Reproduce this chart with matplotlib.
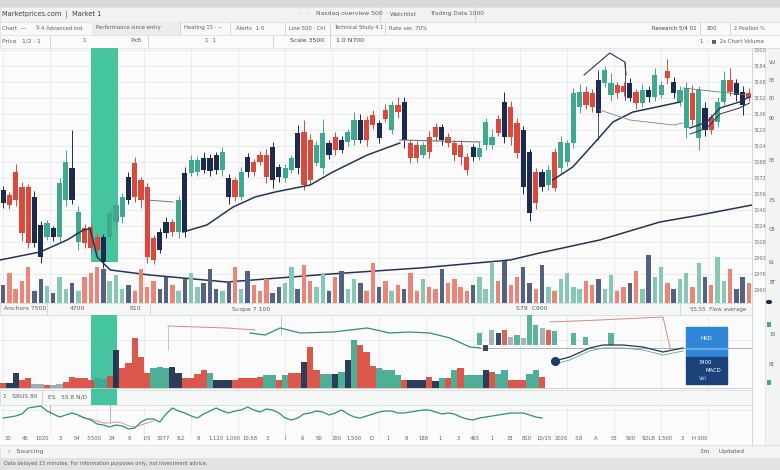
import numpy as np
import matplotlib
matplotlib.use("Agg")
import matplotlib.pyplot as plt
from matplotlib.patches import Rectangle
from matplotlib.ticker import MultipleLocator

W, H = 780, 470

# ---- price candles (one per session) ----
candle_colors = ("NRRRRNNTNT" "TNTRRRNTTT" "NRRRRNNRTN" "TTNNNTNRTN" "RRRNNTTNRR"
                 "TTNRNTTNRR" "NRTRNRRTRR" "NRRRRNTTTR" "NRRNNRNTRT" "TTTRRNTTRR"
                 "NRTNTTRNTT" "RTNRTTRNNR")
opens = [3047, 3055, 3078, 3063, 3063, 3007, 2993, 3013, 3013, 3013,
         3050, 3050, 3008, 3022, 3023, 3013, 2988, 3013, 3028, 3033,
         3050, 3087, 3070, 3063, 3012, 3000, 3017, 3028, 3018, 3018,
         3077, 3078, 3080, 3079, 3080, 3080, 3053, 3070, 3053, 3078,
         3088, 3095, 3095, 3070, 3073, 3072, 3080, 3082, 3118, 3110,
         3087, 3082, 3095, 3113, 3100, 3108, 3110, 3110, 3130, 3135,
         3112, 3140, 3120, 3145, 3110, 3107, 3105, 3095, 3113, 3123,
         3110, 3113, 3107, 3105, 3093, 3093, 3093, 3105, 3105, 3131,
         3113, 3143, 3127, 3063, 3037, 3078, 3063, 3065, 3098, 3082,
         3088, 3107, 3158, 3158, 3143, 3137, 3167, 3167, 3165, 3164,
         3152, 3158, 3147, 3153, 3153, 3155, 3179, 3157, 3148, 3122,
         3157, 3112, 3120, 3133, 3128, 3148, 3170, 3155, 3145, 3157]
closes = [3060, 3045, 3050, 3017, 3007, 3053, 3025, 3027, 3022, 3067,
          3088, 3082, 3038, 3007, 3002, 3000, 3013, 3037, 3045, 3053,
          3073, 3053, 3050, 2993, 2990, 3018, 3028, 3018, 3050, 3077,
          3090, 3090, 3092, 3092, 3095, 3098, 3072, 3053, 3078, 3093,
          3078, 3088, 3073, 3103, 3083, 3082, 3092, 3117, 3065, 3070,
          3105, 3117, 3107, 3100, 3110, 3118, 3130, 3130, 3110, 3125,
          3127, 3131, 3145, 3138, 3148, 3092, 3092, 3105, 3098, 3113,
          3123, 3107, 3095, 3093, 3080, 3103, 3102, 3128, 3113, 3117,
          3148, 3113, 3097, 3120, 3098, 3047, 3078, 3080, 3062, 3108,
          3107, 3157, 3143, 3145, 3157, 3170, 3180, 3155, 3157, 3158,
          3167, 3147, 3160, 3160, 3175, 3165, 3172, 3168, 3160, 3162,
          3130, 3160, 3142, 3120, 3148, 3170, 3158, 3167, 3158, 3152]
wick_up = [4, 3, 8, 5, 3, 6, 4, 3, 2, 5, 12, 38, 6, 4, 3, 4, 3, 5, 4, 4,
           5, 6, 3, 4, 3, 4, 5, 3, 4, 6, 5, 4, 6, 4, 3, 5, 4, 3, 5, 4,
           3, 4, 6, 5, 3, 4, 3, 8, 12, 6, 4, 14, 3, 5, 4, 3, 8, 6, 4, 5,
           3, 6, 4, 8, 5, 3, 4, 3, 6, 4, 3, 4, 3, 5, 4, 3, 6, 4, 8, 4,
           10, 6, 5, 4, 3, 4, 3, 5, 4, 6, 3, 5, 8, 6, 4, 8, 4, 10, 3, 4,
           5, 3, 6, 4, 7, 4, 12, 5, 4, 6, 8, 4, 6, 3, 5, 9, 12, 4, 6, 5]
wick_dn = [5, 4, 6, 8, 5, 4, 6, 3, 4, 5, 6, 4, 8, 5, 4, 3, 6, 4, 5, 6,
           4, 5, 8, 6, 4, 3, 5, 4, 6, 5, 3, 4, 3, 5, 4, 6, 7, 4, 3, 5,
           4, 3, 6, 8, 5, 4, 3, 6, 5, 4, 3, 6, 4, 5, 3, 4, 5, 3, 6, 4,
           5, 3, 4, 6, 8, 5, 4, 3, 6, 4, 5, 4, 6, 8, 5, 4, 3, 5, 4, 3,
           6, 8, 5, 7, 8, 6, 4, 5, 3, 6, 4, 5, 6, 4, 5, 3, 4, 6, 5, 4,
           3, 6, 4, 5, 4, 3, 6, 5, 4, 10, 5, 12, 6, 4, 5, 3, 4, 6, 10, 3]
volumes = [18, 30, 14, 22, 36, 12, 24, 17, 10, 26, 14, 20, 12, 26, 30, 36, 34, 22, 28, 14,
           18, 12, 34, 16, 22, 14, 26, 18, 12, 24, 30, 16, 20, 34, 14, 12, 22, 36, 14, 32,
           18, 12, 24, 10, 16, 20, 36, 14, 38, 22, 16, 30, 12, 26, 32, 14, 24, 20, 12, 40,
           16, 22, 12, 18, 14, 30, 12, 24, 16, 14, 34, 20, 24, 16, 12, 18, 26, 14, 40, 22,
           42, 18, 26, 36, 20, 14, 38, 16, 12, 24, 30, 16, 14, 22, 18, 24, 14, 28, 12, 16,
           20, 32, 14, 52, 26, 36, 20, 14, 24, 30, 16, 40, 26, 18, 46, 22, 34, 14, 26, 20]

# moving averages (session index, price)
ma_long_x = [-0.5, 5.9, 10.2, 12.8, 13.9, 15.0, 17.1, 23.4, 35.7, 52.2, 66.5, 80.9, 85.6, 95.2, 104.8, 111.2, 119.5]
ma_long_y = [2990, 2998, 3010, 3020, 3021, 2993, 2980, 2975, 2968, 2976, 2982, 2990, 2997, 3010, 3028, 3035, 3045]
ma_mid_x = [28.7, 32.5, 36.7, 40.2, 43.4, 49.0, 52.6, 58.1, 63.3]
ma_mid_y = [3018, 3025, 3043, 3053, 3058, 3065, 3078, 3095, 3107]
ma_fast_x = [87.7, 90.9, 95.2, 97.3, 100.5, 104.3, 108.0]
ma_fast_y = [3070, 3083, 3113, 3128, 3138, 3143, 3148]
ma_tail_x = [109.6, 112.3, 114.4, 117.5, 119.1]
ma_tail_y = [3122, 3128, 3142, 3148, 3153]
level_x = [95.2, 100.0, 106.9, 108.5]
level_y = [3140, 3130, 3125, 3127]
peak_x = [92.7, 96.8, 99.2, 99.4]
peak_y = [3175, 3197, 3188, 3175]

# ---- lower panel histogram ----
hist_vals = [5, 5, 15, 8, 10, 4, 4, 3, 3, 4, 6, 11, 10, 10, 8, 10, 9, 12, 38, 20,
             25, 50, 31, 15, 20, 21, 20, 21, 15, 10, 10, 14, 18, 15, 8, 8, 8, 8, 10, 10,
             10, 11, 13, 13, 8, 13, 15, 15, 26, 41, 18, 14, 14, 14, 16, 28, 48, 43, 36, 22,
             20, 18, 18, 13, 8, 8, 8, 8, 11, 7, 10, 10, 18, 20, 13, 13, 13, 18, 16, 14,
             18, 8, 8, 8, 14, 18, 11]
hist_colors = ("RNNRRGGRGG" "RRRRRTTRNR" "RRRRTTTNNR" "RRRTNNNRRR" "RRTTRTRRNR"
               "RTTNTNTRRR" "TTTTRNNNRN" "TRTRTTTNRT" "TRRRTTR")
osc_bar_x = [76, 77, 78, 79, 80, 81, 82, 83, 84, 85, 86, 87, 88, 91, 93, 97]
osc_bar_v = [12, -6, 15, 12, 15, 8, 10, 7, 30, 20, 17, 15, 14, 12, 8, 12]
osc_bar_c = "TNGNRGTGTTGRTTTT"
sig_a_x = [26.3, 35.7, 40.2]
sig_a_y = [64, 62, 60]
sig_b_x = [39.4, 41.8, 44.2, 47.4, 52.6, 58.1, 61.7, 64.9, 68.1, 71.3, 74.5, 76.1]
sig_b_y = [57, 55, 62, 57, 58, 62, 57, 58, 57, 52, 43, 42]
sig_c_x = [88.0, 90.4, 93.6, 95.7, 98.9, 102.1, 105.3, 108.5]
sig_c_y = [29, 33, 42, 45, 45, 43, 38, 42]
sig_d_x = [87.2, 95.2, 105.3, 106.5]
sig_d_y = [68, 70, 73, 40]

# ---- oscillator ----
osc_vals = [17, 18, 19, 21, 27, 28, 29, 24, 21, 18, 20, 22, 20, 17, 15, 11, 10, 8, 10, 9,
            6, 7, 13, 16, 16, 13, 21, 27, 24, 22, 19, 17, 21, 24, 27, 24, 22, 24, 25, 28,
            25, 23, 26, 25, 22, 17, 15, 17, 21, 22, 24, 23, 20, 22, 25, 21, 18, 17, 19, 21,
            23, 24, 24, 22, 22, 23, 24, 25, 25, 23, 21, 22, 21, 18, 16, 15, 17, 18, 19, 20,
            21, 22, 22, 22, 20, 18, 17]
osc_sig_x = list(range(12, 25))
osc_sig_y = [19, 17, 16, 14, 12, 12, 13, 12, 9, 8, 10, 12, 14]

x_labels = ["30", "45", "1020", "3", "54", "3.500", "24", "8", "1/5", "3077", "8.2", "8",
            "1.120", "1.000", "10.58", "3", "J", "6", "50", "200", "1.500", "D", "1", "8",
            "188", "1", "3", "465", "1", "33", "810", "10/15", "2020", "3.8", "A", "53",
            "500", "SOLB", "1.500", "3", "H 300"]

RED, TEAL, NAVY, GRAY = "#d9493c", "#3fa88e", "#1c2b4d", "#9aa7ad"
CMAP = {"R": RED, "T": TEAL, "N": NAVY, "G": GRAY}
VMAP = {"R": "#e98677", "T": "#86c7b6", "N": "#52627f", "G": "#b9c3c7"}
BAND = "#45c4a0"


def rect(x0, y0, x1, y1):
    return [x0 / W, 1 - y1 / H, (x1 - x0) / W, (y1 - y0) / H]


def ftext(x, y, s, size=4.4, color="#5a5f63", **kw):
    fig.text(x / W, 1 - y / H, s, fontsize=size, color=color, va="center", **kw)


def fbox(x0, y0, x1, y1, fc, ec="none", z=-5, lw=0.6):
    fig.patches.append(Rectangle((x0 / W, 1 - y1 / H), (x1 - x0) / W, (y1 - y0) / H,
                                 transform=fig.transFigure, fc=fc, ec=ec, lw=lw, zorder=z))


def style(ax):
    ax.set_facecolor("none")
    for s in ax.spines.values():
        s.set_visible(False)
    ax.xaxis.set_major_locator(MultipleLocator(7.5))
    ax.grid(True, color="#e7e9ea", lw=0.6)
    ax.set_axisbelow(True)
    ax.tick_params(length=0, labelbottom=False, labelleft=False)
    ax.set_xlim(-0.5, 119.5)


fig = plt.figure(figsize=(W / 100, H / 100), dpi=100, facecolor="#fbfbfb")

# chrome
fbox(0, 0, 780, 7, "#d6d8d9")
fbox(0, 7, 780, 22, "#f1f2f2", ec="#dcdede")
fbox(0, 22, 780, 35, "#f8f9f9", ec="#e1e3e3")
fbox(92, 22, 180, 35, "#ebeced")
fbox(0, 35, 780, 48, "#fbfbfb", ec="#e1e3e3")
fbox(765, 48, 780, 445, "#f2f3f3", ec="#dfe1e1")
fbox(0, 303, 752, 315, "#f5f6f6", ec="#d8dbdc")
fbox(0, 390, 752, 405, "#f6f7f7", ec="#d8dbdc")
fbox(0, 445, 780, 458, "#f3f4f4", ec="#dfe1e1")
fbox(0, 458, 780, 470, "#e1e2e3")
fbox(91, 390, 117, 405, BAND, z=-4)
for xs, y0, y1 in [(47, 303, 315), (150, 303, 315), (680, 303, 315), (752, 303, 315),
                   (42, 390, 405), (180, 22, 35), (230, 22, 35), (285, 22, 35),
                   (330, 22, 35), (385, 22, 35), (700, 22, 35), (730, 22, 35),
                   (50, 35, 48), (148, 35, 48), (273, 35, 48), (330, 35, 48),
                   (380, 7, 22), (475, 7, 22), (752, 48, 445)]:
    fbox(xs, y0, xs + 0.6, y1, "#d2d6d8")

ftext(2, 14, "Marketprices.com  |  Market 1", 4.8, "#3d4246")
ftext(300, 14, "·   ·   Nasdaq overview 500  ·", 4.4)
ftext(390, 14, "Watchlist", 4.2)
ftext(430, 14, "Trading Data 1000", 4.2)
ftext(2, 28, "Chart  —", 4.0)
ftext(36, 28, "$", 4.4, RED)
ftext(41, 28, "4 Advanced ind.", 3.8)
ftext(96, 28, "Performance since entry", 3.8)
ftext(184, 28, "Heating 15 · ~", 3.8)
ftext(236, 28, "Alerts  1-5", 4.0)
ftext(289, 28, "Line 500 · Chl", 3.8)
ftext(334, 28, "Technical Study 4.1", 3.7)
ftext(389, 28, "Rate ver. 70%", 4.0)
ftext(652, 28, "Research 5/4 01", 4.0, "#3d4246")
ftext(707, 28, "800", 4.0)
ftext(734, 28, "2 Position %", 3.6)
ftext(2, 41, "Price   1/2 · 1", 4.2)
ftext(82, 41, "1", 4.2)
ftext(130, 41, "PxB", 4.2)
ftext(205, 41, "1  1", 4.2)
ftext(290, 41, "Scale 3500", 4.4, "#3d4246")
ftext(336, 41, "1.0 N700", 4.4, "#3d4246")
ftext(700, 41, "1  ·  ■  2x Chart Volume", 3.8)
ftext(4, 309, "Anchors 7500", 4.4)
ftext(70, 309, "4700", 4.4)
ftext(130, 309, "810", 4.4)
ftext(232, 309, "Scope 7 100", 4.4)
ftext(516, 309, "S79  C900", 4.4)
ftext(690, 309, "55.55  Flow average", 4.0)
ftext(3, 397, "1   SRUS 80", 4.2)
ftext(48, 397, "ES   55.8 N/D", 4.2)
ftext(8, 451, "›   Sourcing", 4.4)
ftext(700, 451, "3m     Updated", 4.2)
ftext(4, 464, "Data delayed 15 minutes. For information purposes only, not investment advice.", 3.6)
for yy, s in [(62, "Vol"), (80, "83"), (98, "80"), (118, "90"), (160, "83"), (200, "ES"),
              (230, "CB"), (262, "61"), (282, "BT"), (335, "18"), (365, "81")]:
    ftext(769, yy, s, 3.4)
fig.patches.append(plt.Circle((769 / W, 1 - 302 / H), 0.003, transform=fig.transFigure,
                              color=NAVY, zorder=5))
fbox(767, 322, 771, 327, TEAL, z=5)
fbox(767, 380, 771, 385, TEAL, z=5)

# main price panel
ax = fig.add_axes(rect(0, 48, 752, 303))
style(ax)
ax.set_ylim(2947, 3202)
ax.yaxis.set_major_locator(MultipleLocator(16))
ax.tick_params(labelright=True, labelsize=3.6, labelcolor="#6b7175", pad=1.0)
ax.axvspan(14.0, 18.3, ymin=0.16, ymax=1, color=BAND, lw=0, zorder=1)

idx = np.arange(len(opens))
o = np.array(opens, float)
c = np.array(closes, float)
hi = np.maximum(o, c) + np.array(wick_up)
lo = np.minimum(o, c) - np.array(wick_dn)
cols = [CMAP[k] for k in candle_colors]
ax.vlines(idx, lo, hi, colors=cols, lw=0.7, zorder=3)
ax.bar(idx, np.abs(c - o), bottom=np.minimum(o, c), width=0.82, color=cols, zorder=4)

ax.plot(ma_long_x, ma_long_y, color="#243656", lw=1.1, zorder=5)
ax.plot(ma_mid_x, ma_mid_y, color="#243656", lw=1.1, zorder=5)
ax.plot(ma_fast_x, ma_fast_y, color="#243656", lw=1.1, zorder=5)
ax.plot(ma_tail_x, ma_tail_y, color="#243656", lw=1.0, zorder=5)
ax.plot(ma_tail_x, np.array(ma_tail_y) - 6, color="#243656", lw=0.7, zorder=5)
ax.plot(level_x, level_y, color="#7d878d", lw=0.6, zorder=5)
ax.plot([63.3, 76.1], [3110, 3108], color="#6d777d", lw=0.8, zorder=5)
ax.plot([23.0, 27.1], [3050, 3048], color="#6d777d", lw=0.7, zorder=5)
ax.plot([108.5, 118.7], [3162, 3155], color="#6d777d", lw=0.6, zorder=5)
ax.plot(peak_x, peak_y, color="#2b3a55", lw=0.8, zorder=5)
ax.vlines([94.9, 99.3], [3110, 3150], [3180, 3188], colors="#2b3a55", lw=0.6, zorder=5)

# volume overlay
axv = fig.add_axes(rect(0, 255, 752, 303))
style(axv)
axv.grid(False)
axv.set_ylim(0, 48)
axv.bar(idx, volumes, width=0.7, color=[VMAP[k] for k in candle_colors], zorder=2)

# histogram / signal panel
ax2 = fig.add_axes(rect(0, 315, 752, 390))
style(ax2)
ax2.set_ylim(0, 75)
ax2.axvspan(14.0, 18.1, color=BAND, lw=0, zorder=1)
hidx = np.arange(len(hist_vals))
ax2.bar(hidx, hist_vals, bottom=2, width=1.0, color=[CMAP[k] for k in hist_colors],
        alpha=0.92, zorder=3)
ax2.bar(osc_bar_x, osc_bar_v, bottom=45, width=0.8, color=[CMAP[k] for k in osc_bar_c],
        alpha=0.85, zorder=3)
ax2.axhline(2, color="#c3c8cb", lw=0.6)
ax2.plot([76, 119.5], [42, 42], color="#aab2b6", lw=0.7, zorder=2)
ax2.plot(sig_a_x, sig_a_y, color="#d98a7e", lw=0.7, zorder=4)
ax2.vlines([26.3, 44.4], [40, 55], [64, 74], colors="#b5bcc0", lw=0.6)
ax2.plot(sig_b_x, sig_b_y, color="#2f8f7c", lw=0.9, zorder=4)
ax2.plot(sig_c_x, sig_c_y, color="#243656", lw=0.9, zorder=4)
ax2.plot(sig_c_x, np.array(sig_c_y) - 3, color="#5aa895", lw=0.6, zorder=4)
ax2.plot(sig_d_x, sig_d_y, color="#d98a7e", lw=0.7, zorder=4)
ax2.plot([sig_c_x[0]], [sig_c_y[0]], "o", color="#1d3a6b", ms=5.5, zorder=6)
ax2.add_patch(Rectangle((108.9, 33), 6.6, 30, color="#2f86d8", zorder=7))
ax2.add_patch(Rectangle((108.9, 41.5), 6.6, 0.8, color="#66a9e6", zorder=8))
ax2.add_patch(Rectangle((108.9, 6), 6.6, 27, color="#1b4379", zorder=7))
ax2.text(112.2, 51, "HKD", fontsize=4.0, color="white", ha="center", va="center", zorder=9)
ax2.text(111.0, 27, "3400", fontsize=3.8, color="white", ha="left", va="center", zorder=9)
ax2.text(112.0, 19, "MACD", fontsize=3.8, color="white", ha="left", va="center", zorder=9)
ax2.text(111.0, 11, "Vol", fontsize=3.8, color="#cfd8e6", ha="left", va="center", zorder=9)

# oscillator panel
ax3 = fig.add_axes(rect(0, 405, 752, 435))
style(ax3)
ax3.set_ylim(0, 30)
ax3.plot(np.arange(len(osc_vals)), osc_vals, color="#2f8f7c", lw=0.9, zorder=4)
ax3.plot(osc_sig_x, osc_sig_y, color="#d98a7e", lw=0.6, zorder=3)
ax3.vlines([17.1, 7.5], [12, 20], [32, 30], colors="#a3acb0", lw=0.6)

xs = np.linspace(8, 700, len(x_labels))
for xp, s in zip(xs, x_labels):
    ftext(xp, 438, s, 3.8, "#5d6366", ha="center")

fig.savefig("out.png", dpi=100, facecolor=fig.get_facecolor())
